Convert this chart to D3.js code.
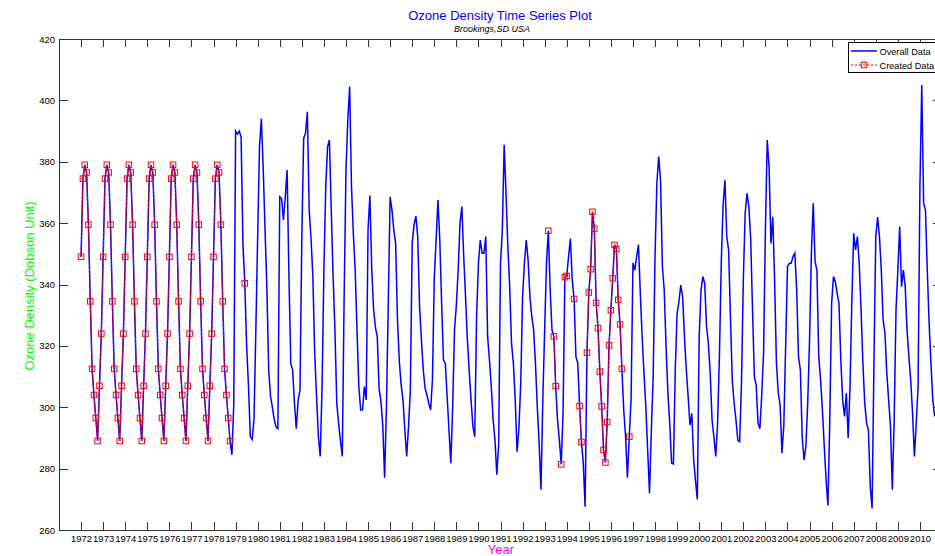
<!DOCTYPE html>
<html>
<head>
<meta charset="utf-8">
<script src="https://cdn.jsdelivr.net/npm/d3@7"></script>
<style>
body { margin: 0; background: #fff; }
text { font-family: "Liberation Sans", Arial, sans-serif; }
</style>
</head>
<body>
<div id="vis"></div>
<script>
// monthly ozone means (Dobson units), Jan..Dec, one row per year from 1972
const startYear = 1972;
const ozone = [
    [349, 374.5, 379, 376.5, 359.5, 334.5, 312.5, 304, 296.5, 289, 307, 324],          // 1972
    [349, 374.5, 379, 376.5, 359.5, 334.5, 312.5, 304, 296.5, 289, 307, 324],          // 1973
    [349, 374.5, 379, 376.5, 359.5, 334.5, 312.5, 304, 296.5, 289, 307, 324],          // 1974
    [349, 374.5, 379, 376.5, 359.5, 334.5, 312.5, 304, 296.5, 289, 307, 324],          // 1975
    [349, 374.5, 379, 376.5, 359.5, 334.5, 312.5, 304, 296.5, 289, 307, 324],          // 1976
    [349, 374.5, 379, 376.5, 359.5, 334.5, 312.5, 304, 296.5, 289, 307, 324],          // 1977
    [349, 374.5, 379, 376.5, 359.5, 334.5, 312.5, 304, 296.5, 289, 284.5, 301],        // 1978
    [390, 389, 390, 388, 353, 340.4, 320, 307, 290.5, 289.5, 296, 325],                // 1979
    [356, 385, 394, 378, 358, 339, 312, 303.5, 300, 296, 293.5, 293],                  // 1980
    [368.6, 368, 361, 368.6, 377.3, 342.6, 314.3, 312.2, 301.3, 293, 302.4, 305.6],    // 1981
    [355.6, 387.6, 389.3, 396.3, 364.3, 355, 342.6, 317.6, 303.5, 290.4, 284, 306.7],  // 1982
    [344.7, 371.9, 384.9, 387.1, 364.3, 342.6, 325.2, 301.3, 294.8, 289, 284, 336],    // 1983
    [377.3, 393.6, 404.5, 371.9, 356.7, 344.7, 325.2, 306.7, 299.1, 299.1, 306.7, 302.4], // 1984
    [358, 369, 345, 332, 326, 323, 306, 302, 294, 277, 300, 334],                      // 1985
    [368.6, 364.3, 357.8, 353.4, 328.4, 315, 307.3, 302.4, 292.6, 284, 293.7, 305.6],  // 1986
    [353.6, 359.4, 362.3, 355.6, 332.8, 322, 312.2, 306.2, 304, 301.3, 299.1, 308.9],  // 1987
    [342, 354.5, 367.5, 354.5, 333.9, 315.4, 314.3, 303.5, 292.6, 281.8, 300.2, 325.2], // 1988
    [333.3, 344.7, 360, 365.4, 349.1, 336, 322, 311.6, 302.4, 293.7, 290.4, 329.5],    // 1989
    [346.9, 354.5, 350.2, 350.2, 355.6, 323, 315.4, 306.7, 295.9, 289.3, 278, 288],    // 1990
    [346.9, 357.8, 385.5, 369.7, 352.3, 339.3, 320.8, 314.3, 302.4, 285.5, 293, 307.8], // 1991
    [336, 346.9, 354.5, 348, 336, 329.5, 325.2, 314.3, 300.2, 288.3, 273.1, 302.4],    // 1992
    [325.2, 346.9, 357.5, 338.2, 325.2, 323.1, 306.9, 295.9, 289.3, 281.4, 298, 342.4], // 1993
    [342.8, 349.1, 355, 341.5, 335.3, 316.5, 314.3, 300.4, 288.7, 281.8, 267.6, 317.8], // 1994
    [337.4, 345, 363.7, 358.2, 334, 325.8, 311.6, 300.3, 286.1, 282, 295.2, 320.2],    // 1995
    [331.6, 342, 352.9, 351.6, 335, 327, 312.5, 299, 290.4, 277, 290.4, 303],          // 1996
    [347, 344.7, 349.1, 353, 337.1, 323, 311, 300.2, 286.1, 272, 292.6, 310],          // 1997
    [349, 373, 381.7, 374, 345.8, 338.2, 319.8, 304.6, 294.8, 281.8, 281.5, 312.2],    // 1998
    [330.6, 334.4, 339.8, 336, 323, 312.2, 303.5, 294.2, 298, 282.9, 276, 270],        // 1999
    [323, 338.2, 342.6, 340.4, 326.3, 320.8, 311.1, 295.9, 290.4, 284, 294.8, 316.5],  // 2000
    [346.9, 366, 374, 355.6, 351.3, 329.5, 308.9, 301.3, 295.9, 289.3, 288.8, 307.8],  // 2001
    [341.5, 363.2, 369.7, 365.4, 355, 331.7, 310, 307.3, 294.8, 293, 304, 317.6],      // 2002
    [357.8, 387.1, 378.4, 353.4, 362.1, 341.5, 314.3, 304.6, 300.7, 285, 294, 319.8],  // 2003
    [345.8, 346.9, 346.9, 349.1, 350.2, 338.2, 316.5, 312.2, 290.4, 282.8, 287.2, 301.3], // 2004
    [321.9, 350.2, 366.5, 347.5, 344.7, 316.5, 308.9, 299.1, 287.2, 276.3, 268, 295.9], // 2005
    [333.9, 342.6, 340.9, 337.1, 333.9, 315.4, 302.4, 297, 304.6, 290, 306.7, 335],    // 2006
    [356.7, 351.3, 355.6, 346.9, 331.7, 314.3, 301.3, 294.8, 292.6, 274.1, 267, 314.3], // 2007
    [355.6, 362, 355.6, 344.7, 328.4, 324.1, 311.1, 302.4, 293.7, 273.1, 295.9, 331.7], // 2008
    [344.7, 358.9, 339.3, 344.7, 339.3, 325.2, 316.5, 308.9, 298, 284, 294.8, 306.7],  // 2009
    [371.9, 405, 366.5, 364.3, 344.7, 327.4, 314.3, 302.4, 297]                         // 2010
];

// months that were filled in ("Created Data"), inclusive spans
const createdSpans = [
    ["1972-01", "1978-10"],
    ["1979-06", "1979-06"],
    ["1993-03", "1993-03"],
    ["1993-06", "1993-07"],
    ["1993-10", "1993-10"],
    ["1993-12", "1994-01"],
    ["1994-05", "1994-05"],
    ["1994-08", "1994-09"],
    ["1994-12", "1996-07"],
    ["1996-11", "1996-11"]
];

const xTicks = [1972, 1973, 1974, 1975, 1976, 1977, 1978, 1979, 1980, 1981, 1982, 1983, 1984,
    1985, 1986, 1987, 1988, 1989, 1990, 1991, 1992, 1993, 1994, 1995, 1996, 1997, 1998,
    1999, 2000, 2001, 2002, 2003, 2004, 2005, 2006, 2007, 2008, 2009, 2010];
const yTicks = [260, 280, 300, 320, 340, 360, 380, 400, 420];

const svg = d3.select("#vis")
    .append("svg")
    .attr("width", 935)
    .attr("height", 556);

const x = d3.scaleLinear().domain([1971, 2011]).range([59, 942]);
const y = d3.scaleLinear().domain([260, 420]).range([530, 39]);

function monthIndex(s) {
    const [yy, mm] = s.split("-").map(Number);
    return (yy - startYear) * 12 + (mm - 1);
}

const overall = [];
ozone.forEach((row, i) => {
    row.forEach((v, m) => {
        overall.push({ t: startYear + i + m / 12, v: v, idx: i * 12 + m });
    });
});
overall.forEach(d => {
    d.created = createdSpans.some(([a, b]) => d.idx >= monthIndex(a) && d.idx <= monthIndex(b));
});
const createdPts = overall.filter(d => d.created);

// axes box and ticks (MATLAB style, ticks pointing inwards)
const axisColor = "#333";
const gx = svg.append("g")
    .attr("transform", "translate(0,530)")
    .call(d3.axisBottom(x).tickValues(xTicks).tickFormat(d3.format("d"))
        .tickSize(-8).tickSizeOuter(0).tickPadding(5));
const gxTop = svg.append("g")
    .attr("transform", "translate(0,39)")
    .call(d3.axisTop(x).tickValues(xTicks).tickFormat("").tickSize(-8).tickSizeOuter(0));
const gy = svg.append("g")
    .attr("transform", "translate(59,0)")
    .call(d3.axisLeft(y).tickValues(yTicks).tickSize(-9).tickSizeOuter(0).tickPadding(4));
const gyRight = svg.append("g")
    .attr("transform", "translate(942,0)")
    .call(d3.axisRight(y).tickValues(yTicks).tickFormat("").tickSize(-9).tickSizeOuter(0));

[gx, gxTop, gy, gyRight].forEach(g => {
    g.select(".domain").remove();
    g.selectAll(".tick line").attr("stroke", axisColor).attr("shape-rendering", "crispEdges");
    g.selectAll("text").attr("font-size", "9.5px").attr("fill", "#000")
        .style("font-family", '"Liberation Sans", Arial, sans-serif');
});

svg.append("rect")
    .attr("x", 59).attr("y", 39)
    .attr("width", 942 - 59).attr("height", 530 - 39)
    .attr("fill", "none")
    .attr("stroke", axisColor)
    .attr("shape-rendering", "crispEdges");

// overall data (blue)
const line = d3.line().x(d => x(d.t)).y(d => y(d.v));
svg.append("path")
    .datum(overall)
    .attr("d", line)
    .attr("fill", "none")
    .attr("stroke", "#0000ff")
    .attr("stroke-width", 1.5);

// created data (red dashed, broken where real data exists)
const createdLine = d3.line().defined(d => d.created).x(d => x(d.t)).y(d => y(d.v));
svg.append("path")
    .datum(overall)
    .attr("d", createdLine)
    .attr("fill", "none")
    .attr("stroke", "#ff0000")
    .attr("stroke-width", 1)
    .attr("stroke-dasharray", "2.5,1.5");

const ms = 5.5;
svg.append("g")
    .selectAll("rect")
    .data(createdPts)
    .enter()
    .append("rect")
    .attr("x", d => x(d.t) - ms / 2)
    .attr("y", d => y(d.v) - ms / 2)
    .attr("width", ms)
    .attr("height", ms)
    .attr("fill", "none")
    .attr("stroke", "#ff0000")
    .attr("stroke-width", 1);

// titles and labels
svg.append("text")
    .attr("x", 500).attr("y", 19.5)
    .attr("text-anchor", "middle")
    .attr("font-size", "13px")
    .attr("fill", "#0000ff")
    .text("Ozone Density Time Series Plot");
svg.append("text")
    .attr("x", 492).attr("y", 31.5)
    .attr("text-anchor", "middle")
    .attr("font-size", "9px")
    .attr("font-style", "italic")
    .attr("fill", "#000")
    .text("Brookings,SD USA");
svg.append("text")
    .attr("transform", "translate(34,286) rotate(-90)")
    .attr("text-anchor", "middle")
    .attr("font-size", "13px")
    .attr("fill", "#00ff00")
    .text("Ozone Density (Dobson Unit)");
svg.append("text")
    .attr("x", 501).attr("y", 554)
    .attr("text-anchor", "middle")
    .attr("font-size", "13px")
    .attr("fill", "#ff00ff")
    .text("Year");

// legend
const legend = svg.append("g");
legend.append("rect")
    .attr("x", 848.5).attr("y", 42.5)
    .attr("width", 120).attr("height", 30)
    .attr("fill", "#fff")
    .attr("stroke", "#000");
legend.append("line")
    .attr("x1", 851).attr("x2", 877).attr("y1", 51).attr("y2", 51)
    .attr("stroke", "#0000ff").attr("stroke-width", 1.5);
legend.append("text")
    .attr("x", 879.5).attr("y", 54.5)
    .attr("font-size", "9.2px")
    .text("Overall Data");
legend.append("line")
    .attr("x1", 851).attr("x2", 877).attr("y1", 65).attr("y2", 65)
    .attr("stroke", "#ff0000").attr("stroke-width", 1)
    .attr("stroke-dasharray", "2.5,1.5");
legend.append("rect")
    .attr("x", 864 - ms / 2).attr("y", 65 - ms / 2)
    .attr("width", ms).attr("height", ms)
    .attr("fill", "none").attr("stroke", "#ff0000");
legend.append("text")
    .attr("x", 879.5).attr("y", 68.5)
    .attr("font-size", "9.2px")
    .text("Created Data");
</script>
</body>
</html>
